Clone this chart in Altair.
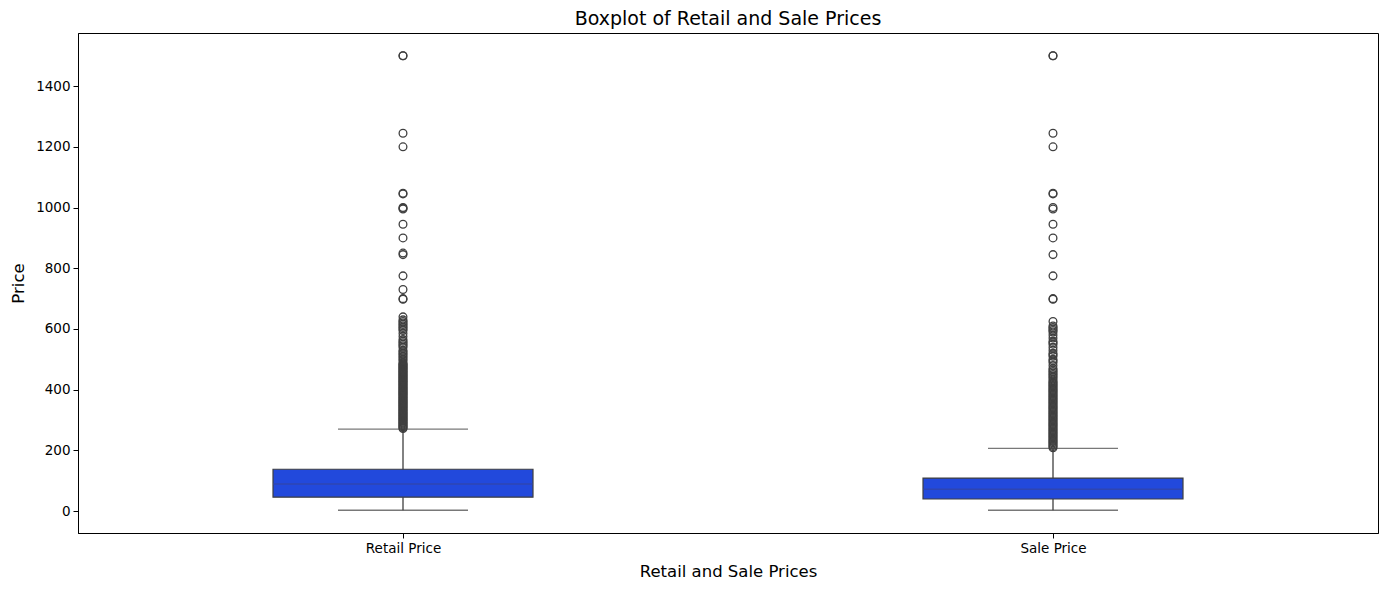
import pandas as pd
import altair as alt

# Box statistics (price units)
categories = ["Retail Price", "Sale Price"]
whisker_low = [3, 3]
q1 = [46, 40]
median = [89, 72]
q3 = [138, 109]
whisker_high = [270, 207]

# Outliers above the upper whisker
retail_outliers = [
    272, 275, 278, 281, 284, 287, 290, 293, 296, 299, 302, 305, 308, 311, 314,
    317, 320, 323, 326, 329, 332, 335, 338, 341, 344, 347, 350, 353, 356, 359,
    362, 365, 368, 371, 374, 377, 380, 383, 386, 389, 392, 395, 398, 401, 404,
    407, 410, 413, 416, 419, 422, 425, 428, 431, 434, 437, 440, 443, 446, 449,
    452, 455, 458, 461, 464, 467, 470, 473, 476, 479, 482, 485, 488,
    495, 500, 505, 510, 515, 520, 525, 530, 540, 545, 550, 555, 560, 565, 575,
    585, 595, 600, 605, 610, 615, 620, 625, 630, 640,
    698, 700, 730, 775, 845, 850, 900, 945, 995, 998, 1000, 1045, 1047,
    1200, 1245, 1500, 1500,
]
sale_outliers = [
    209, 213, 217, 221, 225, 229, 233, 237, 241, 245, 249, 253, 257, 261, 265,
    269, 273, 277, 281, 285, 289, 293, 297, 301, 305, 309, 313, 317, 321, 325,
    329, 333, 337, 341, 345, 349, 353, 357, 361, 365, 369, 373, 377, 381, 385,
    389, 393, 397, 401, 405, 409, 413, 417, 421, 425, 429,
    435, 440, 445, 450, 455, 460, 465, 470, 480, 490, 495, 500, 510, 515, 520,
    530, 540, 550, 555, 560, 570, 580, 590, 595, 600, 605, 610, 625,
    698, 700, 775, 845, 900, 945, 995, 1000, 1045, 1047, 1200, 1245, 1500, 1500,
]

stats = pd.DataFrame({
    "category": categories,
    "lo": whisker_low,
    "q1": q1,
    "med": median,
    "q3": q3,
    "hi": whisker_high,
})
outliers = pd.DataFrame({
    "category": ["Retail Price"] * len(retail_outliers) + ["Sale Price"] * len(sale_outliers),
    "value": retail_outliers + sale_outliers,
})

line_color = "#3f3f3f"
box_color = "#2249dc"

x_enc = alt.X("category:N", sort=categories,
              scale=alt.Scale(type="point", padding=0.5),
              axis=alt.Axis(title="Retail and Sale Prices", labelAngle=0))
y_scale = alt.Scale(domain=[-72, 1575], nice=False, zero=False)
y_axis = alt.Axis(title="Price", format="d",
                  values=[0, 200, 400, 600, 800, 1000, 1200, 1400])

base = alt.Chart(stats)

whisker = base.mark_rule(color=line_color, strokeWidth=1.3).encode(
    x=x_enc,
    y=alt.Y("lo:Q", scale=y_scale, axis=y_axis),
    y2="hi:Q",
)
box = base.mark_bar(size=260, color=box_color, stroke=line_color, strokeWidth=1.2).encode(
    x=x_enc,
    y=alt.Y("q1:Q", scale=y_scale),
    y2="q3:Q",
)
med_line = base.mark_tick(size=260, thickness=1.5, color="#33449f").encode(
    x=x_enc,
    y=alt.Y("med:Q", scale=y_scale),
)
cap_low = base.mark_tick(size=130, thickness=1.3, color=line_color).encode(
    x=x_enc,
    y=alt.Y("lo:Q", scale=y_scale),
)
cap_high = base.mark_tick(size=130, thickness=1.3, color=line_color).encode(
    x=x_enc,
    y=alt.Y("hi:Q", scale=y_scale),
)
fliers = alt.Chart(outliers).mark_point(
    shape="circle", filled=False, size=60, stroke=line_color, strokeWidth=1.3, opacity=1
).encode(
    x=x_enc,
    y=alt.Y("value:Q", scale=y_scale),
)

chart = alt.layer(whisker, box, med_line, cap_low, cap_high, fliers).properties(
    width=1300,
    height=500,
    padding={"left": 2, "top": 2, "right": 2, "bottom": 0},
    title=alt.TitleParams("Boxplot of Retail and Sale Prices", fontSize=19,
                          font="DejaVu Sans", fontWeight="normal", offset=4),
).configure_view(
    stroke="black", strokeWidth=1
).configure_axis(
    grid=False,
    domainColor="black",
    tickColor="black",
    tickSize=5,
    labelColor="black",
    labelFont="DejaVu Sans",
    labelFontSize=13.5,
    labelPadding=3,
    titleFont="DejaVu Sans",
    titleFontSize=16.5,
    titleFontWeight="normal",
    titleColor="black",
    titlePadding=9,
)

chart.save("out.html", embed_options={"renderer": "svg", "actions": False})
